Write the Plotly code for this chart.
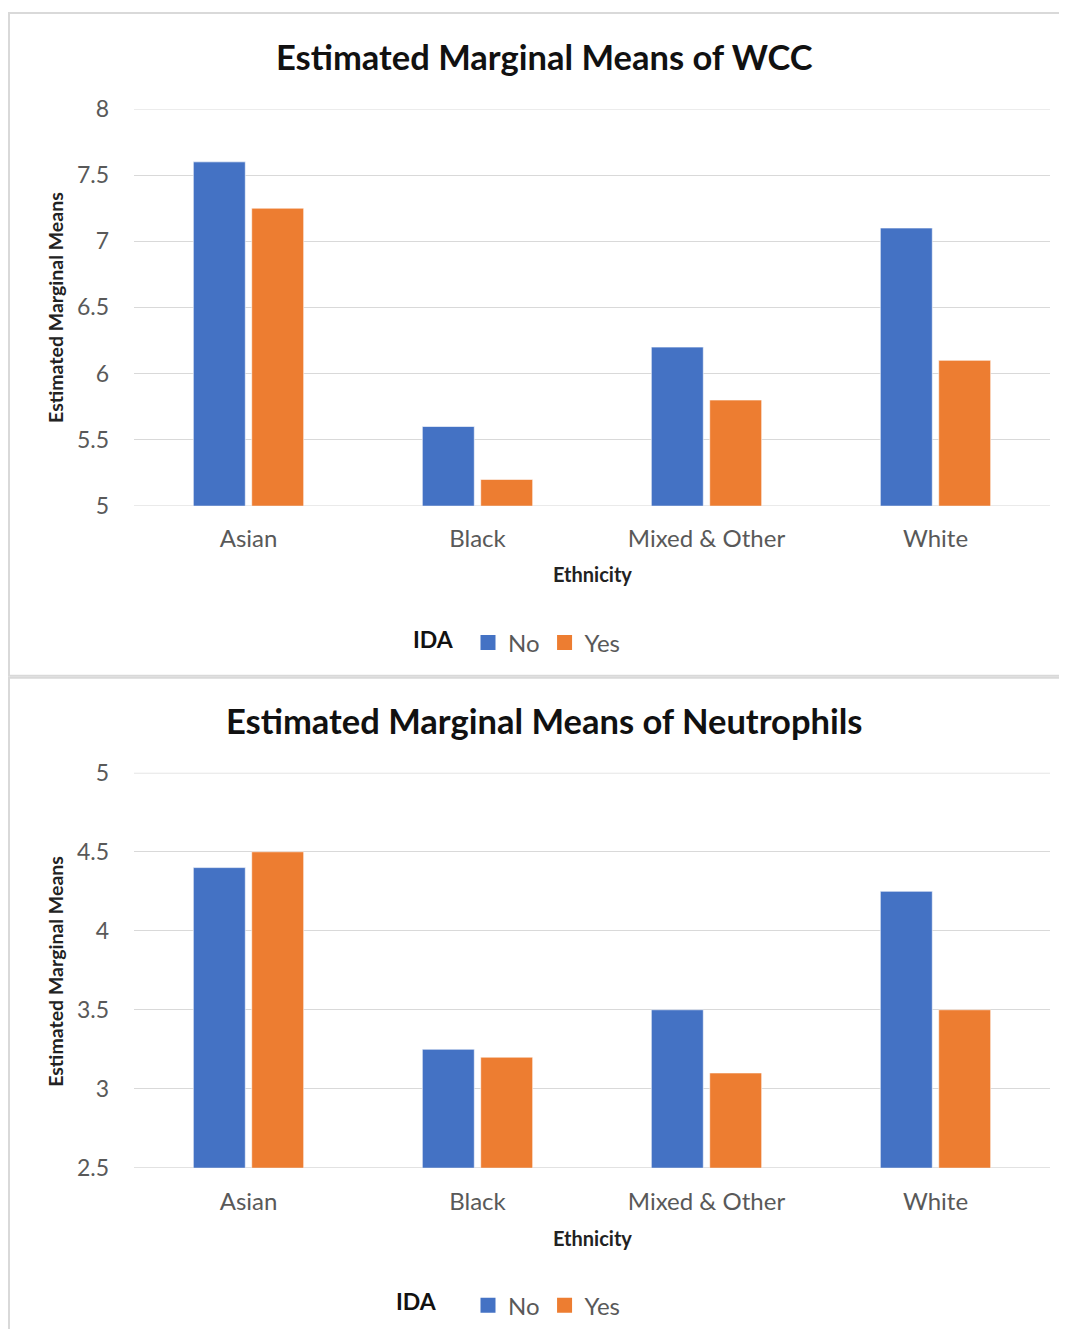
import plotly.graph_objects as go

REF_W, REF_H = 1067, 1337
OFF = 8
W, H = REF_W - 2 * OFF, REF_H - 2 * OFF

categories = ["Asian", "Black", "Mixed & Other", "White"]
wcc_no = [7.6, 5.6, 6.2, 7.1]
wcc_yes = [7.25, 5.2, 5.8, 6.1]
neu_no = [4.4, 3.25, 3.5, 4.25]
neu_yes = [4.5, 3.2, 3.1, 3.5]
series_names = ["No", "Yes"]
titles = ["Estimated Marginal Means of WCC", "Estimated Marginal Means of Neutrophils"]
wcc_range = [5, 8]
neu_range = [2.5, 5]

BLUE = "#4472C4"
ORANGE = "#ED7D31"
GRID = "#D9D9D9"
FONT = "Lato, Carlito, Calibri, sans-serif"

# vertical correction observed between design and rendered picture
SY, CY = 0.979, 14.2


def px_x(x):
    return (x - OFF) / W


def px_y(y):
    yd = (y - CY) / SY
    return 1 - (yd - OFF) / H


fig = go.Figure()

for vals, name, color, xa, ya in [
    (wcc_no, series_names[0], BLUE, "x", "y"),
    (wcc_yes, series_names[1], ORANGE, "x", "y"),
    (neu_no, series_names[0], BLUE, "x2", "y2"),
    (neu_yes, series_names[1], ORANGE, "x2", "y2"),
]:
    fig.add_trace(go.Bar(
        x=categories, y=vals, name=name, marker_color=color,
        marker_line=dict(color="rgba(255,255,255,0.6)", width=1),
        xaxis=xa, yaxis=ya, showlegend=False, hoverinfo="skip",
    ))

for leg in ["legend", "legend2"]:
    for name, color in zip(series_names, [BLUE, ORANGE]):
        fig.add_trace(go.Scatter(
            x=[None], y=[None], mode="markers", name=name, legend=leg,
            marker=dict(symbol="square", size=15, color=color),
            xaxis="x", yaxis="y", hoverinfo="skip",
        ))

xdom = [px_x(134), px_x(1050)]
axis_common = dict(showline=False, zeroline=False)
ytick = dict(size=23, color="#595959")
xtick = dict(size=24, color="#595959")

fig.update_layout(
    width=W, height=H,
    margin=dict(l=0, r=0, t=0, b=0),
    paper_bgcolor="white", plot_bgcolor="white",
    barmode="group", bargap=0.49, bargroupgap=0.11,
    font=dict(family=FONT, color="#595959"),
    xaxis=dict(domain=xdom, anchor="y", showgrid=False, ticks="",
               tickfont=xtick, ticklabelstandoff=16, **axis_common),
    yaxis=dict(domain=[px_y(505), px_y(108)], anchor="x", range=wcc_range, dtick=0.5,
               showgrid=True, gridcolor=GRID, gridwidth=1, ticks="",
               tickfont=ytick, ticklabelstandoff=24, **axis_common),
    xaxis2=dict(domain=xdom, anchor="y2", showgrid=False, ticks="",
                tickfont=xtick, ticklabelstandoff=17, **axis_common),
    yaxis2=dict(domain=[px_y(1167), px_y(772)], anchor="x2", range=neu_range, dtick=0.5,
                showgrid=True, gridcolor=GRID, gridwidth=1, ticks="",
                tickfont=ytick, ticklabelstandoff=24, **axis_common),
    legend=dict(orientation="h", x=px_x(468), y=px_y(642), xanchor="left", yanchor="middle",
                font=dict(size=24, color="#595959"), itemwidth=30, tracegroupgap=0,
                bgcolor="rgba(0,0,0,0)"),
    legend2=dict(orientation="h", x=px_x(468), y=px_y(1305), xanchor="left", yanchor="middle",
                 font=dict(size=24, color="#595959"), itemwidth=30, tracegroupgap=0,
                 bgcolor="rgba(0,0,0,0)"),
)

annotations = [
    dict(text=f"<b>{titles[0]}</b>", x=px_x(544), y=px_y(56), font=dict(size=34.5, color="#111111")),
    dict(text=f"<b>{titles[1]}</b>", x=px_x(544), y=px_y(720), font=dict(size=34.5, color="#111111")),
    dict(text="<b>Ethnicity</b>", x=px_x(592), y=px_y(573), font=dict(size=20, color="#222222")),
    dict(text="<b>Ethnicity</b>", x=px_x(592), y=px_y(1237), font=dict(size=20, color="#222222")),
    dict(text="<b>Estimated Marginal Means</b>", x=px_x(56), y=px_y(307), textangle=-90,
         font=dict(size=19.5, color="#222222")),
    dict(text="<b>Estimated Marginal Means</b>", x=px_x(56), y=px_y(971), textangle=-90,
         font=dict(size=19.5, color="#222222")),
    dict(text="<b>IDA</b>", x=px_x(433), y=px_y(638), font=dict(size=23, color="#111111")),
    dict(text="<b>IDA</b>", x=px_x(416), y=px_y(1300), font=dict(size=23, color="#111111")),
]
for a in annotations:
    a.update(xref="paper", yref="paper", showarrow=False, xanchor="center", yanchor="middle")
fig.update_layout(annotations=annotations)

shapes = [
    dict(type="rect", xref="paper", yref="paper", x0=px_x(9), x1=1.05, y0=px_y(675), y1=px_y(12),
         line=dict(color=GRID, width=2), fillcolor="rgba(0,0,0,0)", layer="below"),
    dict(type="rect", xref="paper", yref="paper", x0=px_x(9), x1=1.05, y0=-0.05, y1=px_y(677),
         line=dict(color=GRID, width=2), fillcolor="rgba(0,0,0,0)", layer="below"),
]
# gridlines at the ends of each value axis (plotly omits them at the plot edges)
for yref, rng in [("y", wcc_range), ("y2", neu_range)]:
    for v in rng:
        shapes.append(dict(type="line", xref=yref.replace("y", "x") + " domain", yref=yref,
                           x0=0, x1=1, y0=v, y1=v, line=dict(color=GRID, width=1.3), layer="below"))
fig.update_layout(shapes=shapes)

fig.write_html("out.html")
